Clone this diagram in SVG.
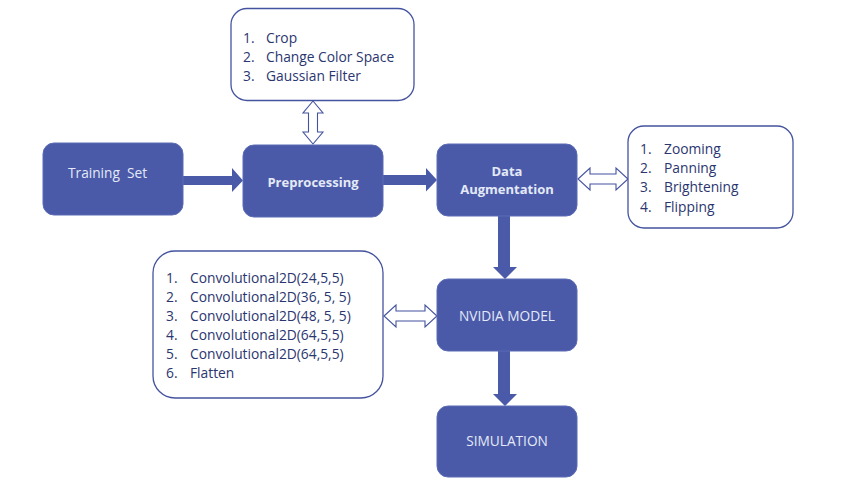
<svg xmlns="http://www.w3.org/2000/svg" width="854" height="480" viewBox="0 0 854 480">
<style>
.box{fill:#4a5aa8;stroke:#5b6bb5;stroke-width:1}
.lst{fill:#ffffff;stroke:#44539f;stroke-width:1.3}
.bt{font-family:"Open Sans","Noto Sans",sans-serif;font-size:13.7px;fill:#e4e9f7;text-anchor:middle}
.bb{font-weight:bold;font-size:13px}
.lt{font-family:"Open Sans","Noto Sans",sans-serif;font-size:13.8px;fill:#2b3670}
.ar{fill:#4a5aa8}
.hol{fill:#ffffff;stroke:#44539f;stroke-width:1.1}
</style>
<rect width="854" height="480" fill="#ffffff"/>
<g id="connectors">
<polygon class="ar" points="183,176 232,176 232,168 243,180.5 232,192 232,185 183,185"/>
<polygon class="ar" points="383,175 426,175 426,168 437,180 426,191.5 426,185 383,185"/>
<polygon class="ar" points="498,216 510,216 510,267 517,267 505,279 493,267 498,267"/>
<polygon class="ar" points="498,351 510,351 510,394 517,394 505,406 493,394 498,394"/>
<polygon class="hol" points="313,101 323,113 317.5,113 317.5,132 323,132 313,144 303,132 308.5,132 308.5,113 303,113"/>
<polygon class="hol" points="578,179 590,168 590,174 616,174 616,168 628,179 616,190 616,184 590,184 590,190"/>
<polygon class="hol" points="384,316 396,305 396,311 425,311 425,305 437,316 425,327 425,321 396,321 396,327"/>
</g>
<g id="training-set">
<rect class="box" x="43" y="143" width="140" height="72" rx="11"/>
<text class="bt" x="68" y="178" style="text-anchor:start;white-space:pre" xml:space="preserve">Training  Set</text>
</g>
<g id="preprocessing">
<rect class="box" x="243" y="145" width="140" height="72" rx="11"/>
<text class="bt bb" x="313" y="187">Preprocessing</text>
</g>
<g id="preprocessing-steps">
<rect class="lst" x="231" y="8.5" width="183" height="92" rx="16"/>
<text class="lt" x="243" y="43">1.</text><text class="lt" x="266" y="43">Crop</text>
<text class="lt" x="243" y="62">2.</text><text class="lt" x="266" y="62">Change Color Space</text>
<text class="lt" x="243" y="81">3.</text><text class="lt" x="266" y="81">Gaussian Filter</text>
</g>
<g id="data-augmentation">
<rect class="box" x="437" y="144" width="140" height="72" rx="11"/>
<text class="bt bb" x="507" y="176">Data</text>
<text class="bt bb" x="507" y="194">Augmentation</text>
</g>
<g id="augmentation-steps">
<rect class="lst" x="628" y="126" width="165" height="102" rx="16"/>
<text class="lt" x="640" y="154">1.</text><text class="lt" x="664" y="154">Zooming</text>
<text class="lt" x="640" y="173">2.</text><text class="lt" x="664" y="173">Panning</text>
<text class="lt" x="640" y="192">3.</text><text class="lt" x="664" y="192">Brightening</text>
<text class="lt" x="640" y="212">4.</text><text class="lt" x="664" y="212">Flipping</text>
</g>
<g id="nvidia-model">
<rect class="box" x="437" y="279" width="140" height="72" rx="11"/>
<text class="bt" x="507" y="321">NVIDIA MODEL</text>
</g>
<g id="model-layers">
<rect class="lst" x="153" y="251" width="230" height="147" rx="22"/>
<text class="lt" x="166" y="283">1.</text><text class="lt" x="190" y="283">Convolutional2D(24,5,5)</text>
<text class="lt" x="166" y="302">2.</text><text class="lt" x="190" y="302">Convolutional2D(36, 5, 5)</text>
<text class="lt" x="166" y="321">3.</text><text class="lt" x="190" y="321">Convolutional2D(48, 5, 5)</text>
<text class="lt" x="166" y="340">4.</text><text class="lt" x="190" y="340">Convolutional2D(64,5,5)</text>
<text class="lt" x="166" y="359">5.</text><text class="lt" x="190" y="359">Convolutional2D(64,5,5)</text>
<text class="lt" x="166" y="378">6.</text><text class="lt" x="190" y="378">Flatten</text>
</g>
<g id="simulation">
<rect class="box" x="437" y="406" width="140" height="71" rx="11"/>
<text class="bt" x="507" y="446">SIMULATION</text>
</g>
</svg>
